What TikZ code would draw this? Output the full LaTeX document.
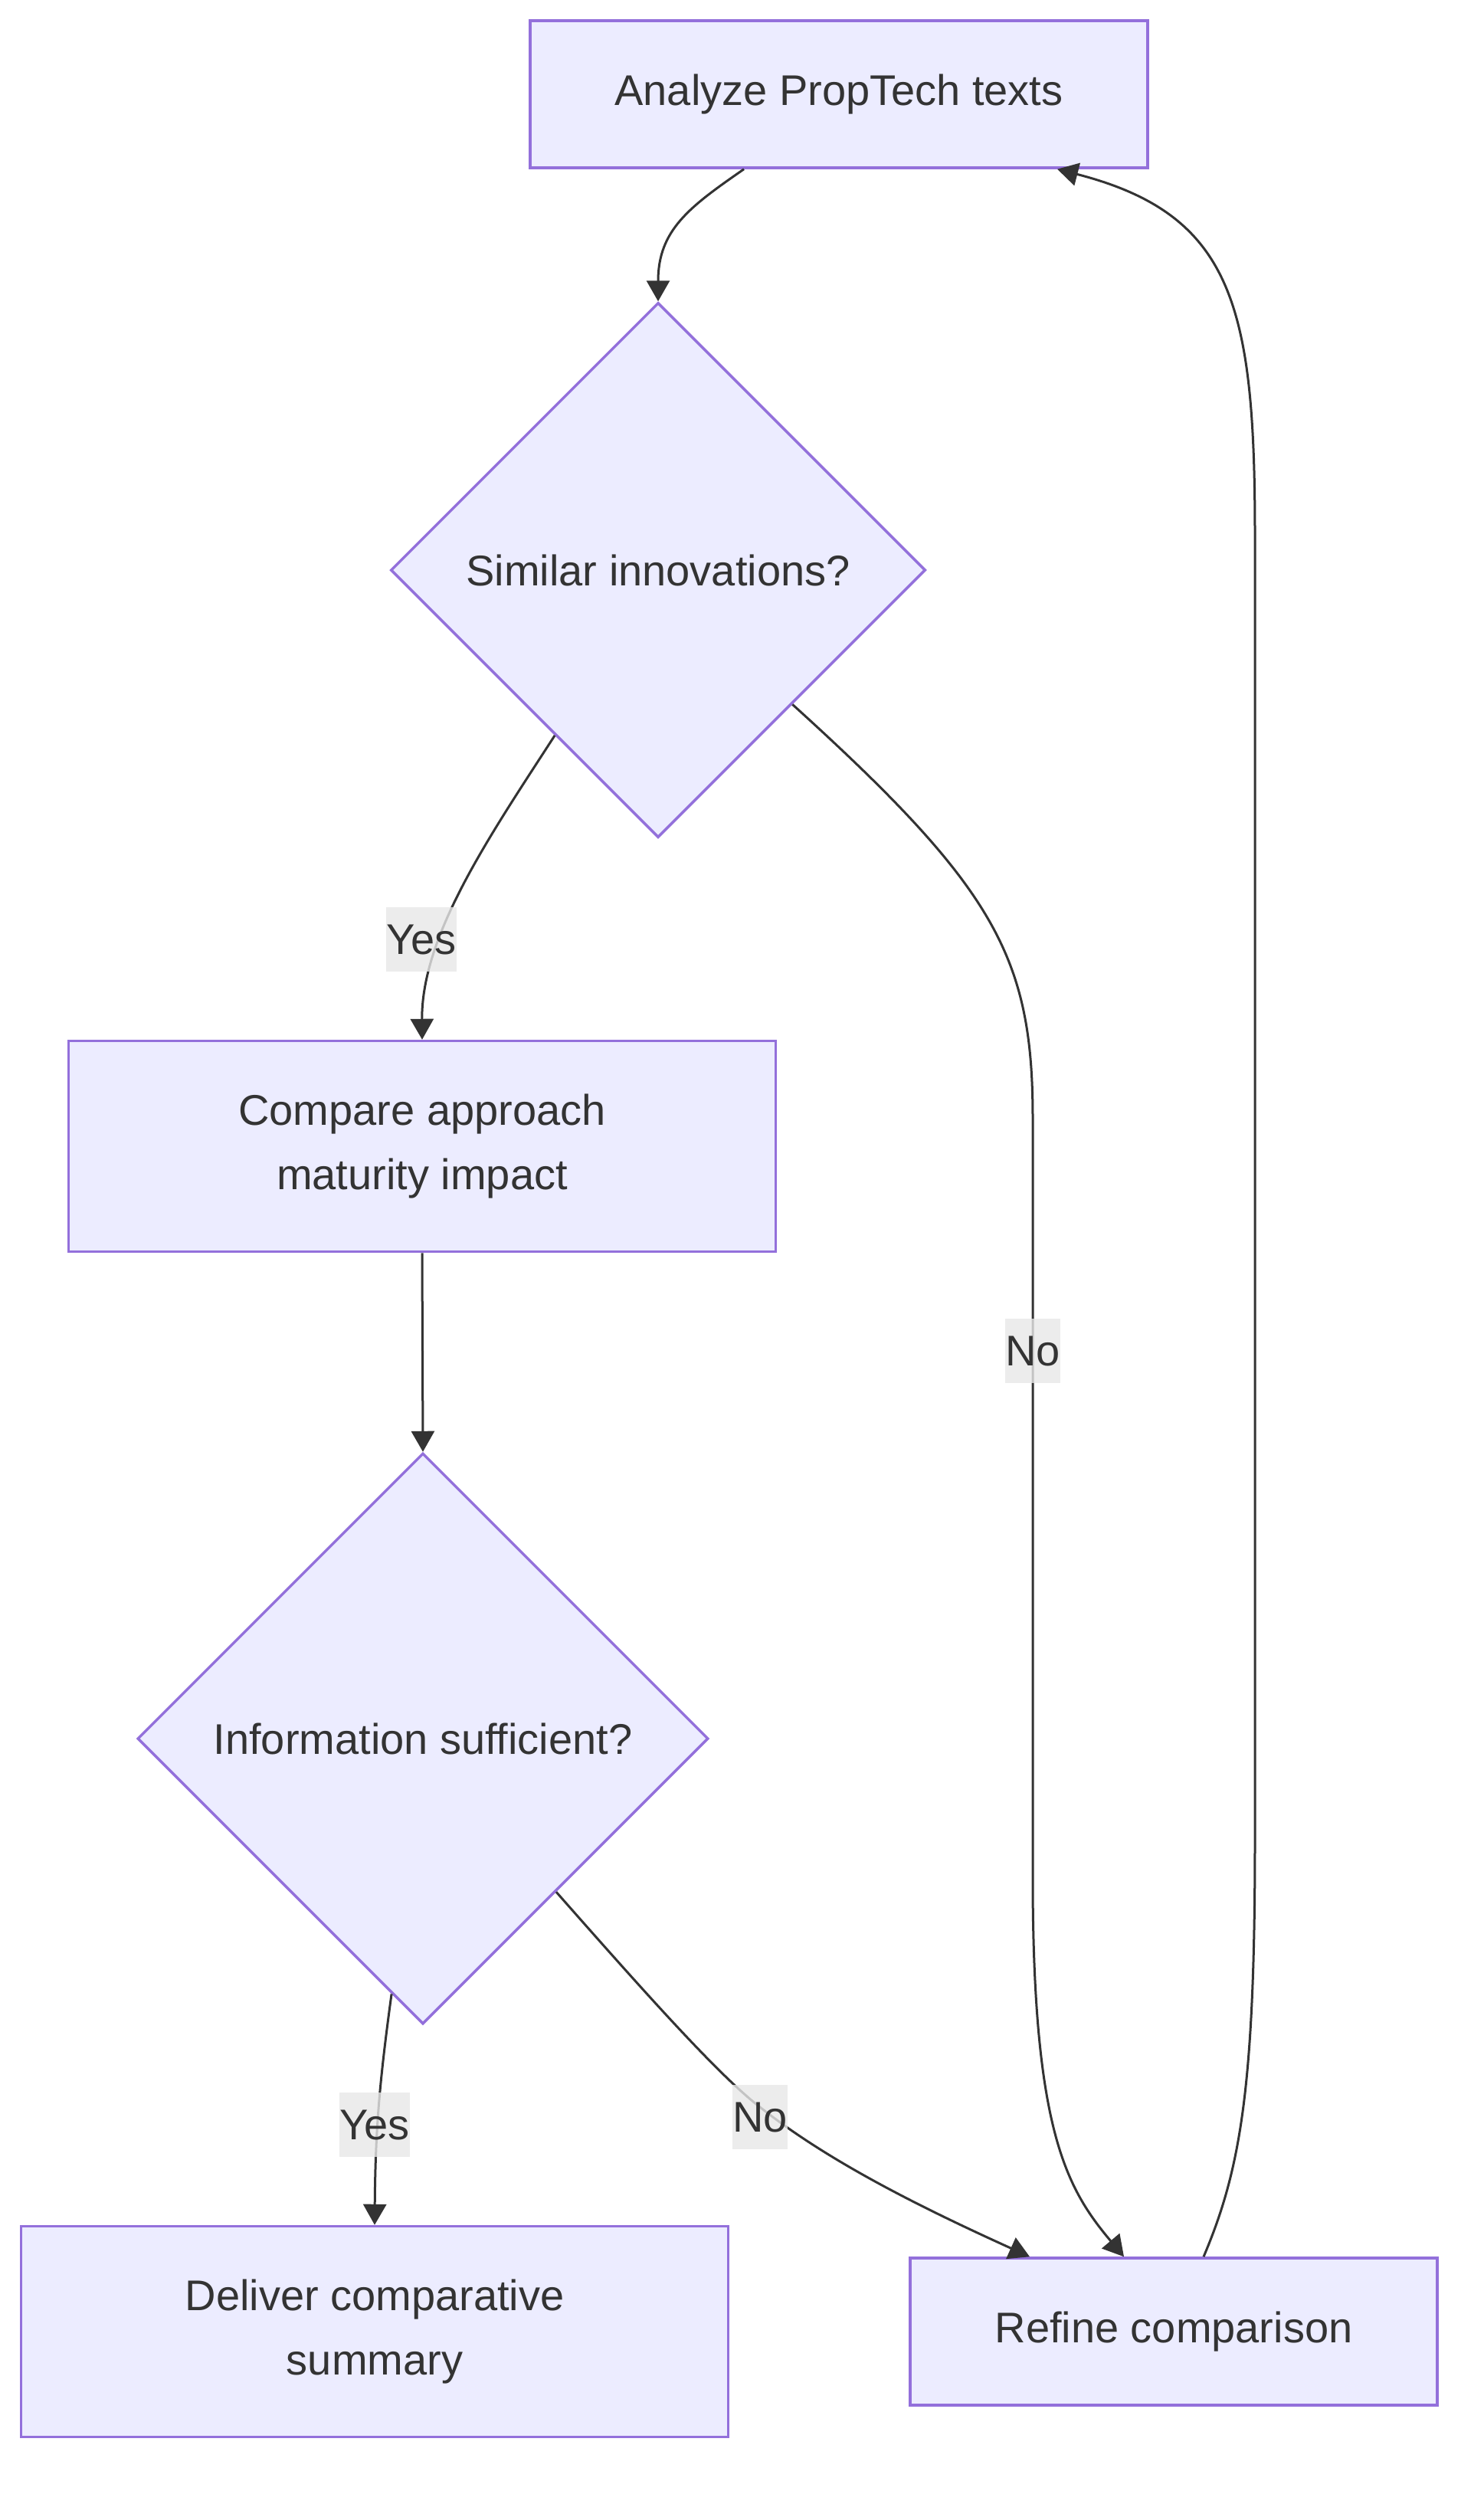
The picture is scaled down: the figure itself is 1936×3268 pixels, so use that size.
\documentclass[tikz,border=0pt]{standalone}
\usepackage{fontspec}
\setmainfont{Liberation Sans}
\usetikzlibrary{shapes.geometric,arrows.meta}
\definecolor{nodefill}{HTML}{ECECFF}
\definecolor{nodeborder}{HTML}{9370DB}
\definecolor{edgecol}{HTML}{333333}
\definecolor{labelbg}{HTML}{E8E8E8}
\begin{document}
\begin{tikzpicture}[x=1pt,y=-1pt,
  box/.style={rectangle, draw=nodeborder, fill=nodefill, line width=3.5pt, inner sep=0pt,
    text=edgecol, font=\fontsize{56}{84}\selectfont, align=center},
  dec/.style={diamond, aspect=1, draw=nodeborder, fill=nodefill, line width=3.5pt, inner sep=0pt,
    text=edgecol, font=\fontsize{56}{84}\selectfont},
  lbl/.style={fill=labelbg, fill opacity=0.8, text opacity=1, text=edgecol, inner xsep=0pt,
    inner ysep=0pt, minimum height=84pt, font=\fontsize{56}{84}\selectfont},
  link/.style={draw=edgecol, line width=3pt, -{Triangle[length=27pt,width=30pt]}}
]
\useasboundingbox (0,0) rectangle (1936,3268);
\fill[white] (0,0) rectangle (1936,3268);

\node[box, minimum width=806pt, minimum height=192pt] (analyze) at (1095,123) {Analyze PropTech texts};
\node[dec, minimum width=698pt, minimum height=698pt] (d1) at (859,744) {Similar innovations?};
\node[box, minimum width=923pt, minimum height=275pt] (compare) at (551,1496) {Compare approach\\maturity impact};
\node[dec, minimum width=745pt, minimum height=745pt] (d2) at (552,2269) {Information sufficient?};
\node[box, minimum width=923pt, minimum height=275pt] (deliver) at (489,3043) {Deliver comparative\\summary};
\node[box, minimum width=688pt, minimum height=192pt] (refine) at (1532,3043) {Refine comparison};

\draw[link] ([xshift=-124pt]analyze.south) .. controls (900,270) and (859,300) .. (d1.north);
\draw[link] (d1.238) .. controls (640,1090) and (550,1220) .. (compare.north);
\draw[link] (d1.-45) .. controls (1300,1160) and (1348,1250) .. (1348,1460) -- (1348,2450)
  .. controls (1348,2780) and (1392,2856) .. ([xshift=-65pt]refine.north);
\draw[link] (compare.south) -- (d2.north);
\draw[link] (d2.-97) .. controls (495,2720) and (490,2780) .. (deliver.north);
\draw[link] (d2.-49) .. controls (850,2610) and (940,2710) .. (992,2750)
  .. controls (1080,2820) and (1200,2880) .. ([xshift=-188pt]refine.north);
\draw[link] ([xshift=39pt]refine.north) .. controls (1620,2830) and (1638,2720) .. (1638,2400)
  -- (1638,700) .. controls (1638,400) and (1610,280) .. ([xshift=285pt]analyze.south);

\node[lbl] (ly1) at (550,1226) {Yes};
\node[lbl] (ln1) at (1348,1763) {No};
\node[lbl] (ly2) at (489,2773) {Yes};
\node[lbl] (ln2) at (992,2763) {No};
\end{tikzpicture}
\end{document}
